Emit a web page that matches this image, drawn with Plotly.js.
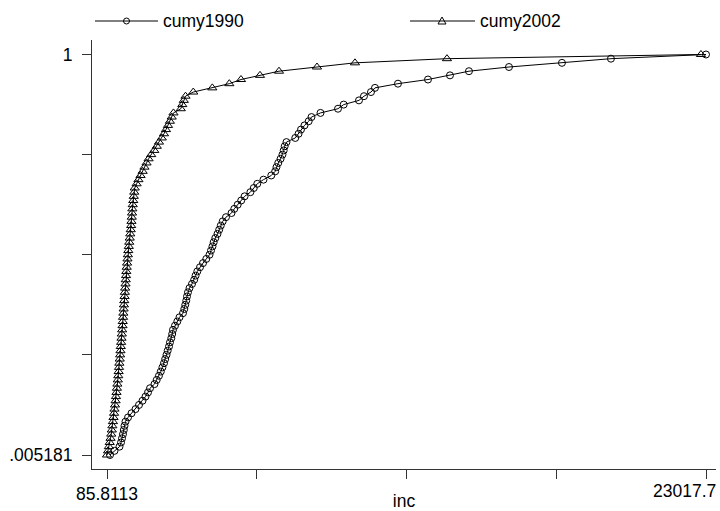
<!DOCTYPE html>
<html>
<head>
<meta charset="utf-8">
<script src="https://cdn.plot.ly/plotly-3.0.1.min.js"></script>
<style>html,body{margin:0;padding:0;background:#fff;}#chart{width:720px;height:511px;}</style>
</head>
<body>
<div id="chart"></div>
<script>
// cumulative share (y) shared by both series
const cumShare = [.005181,.01554,.02591,.03627,.04663,.05699,.06736,.07772,.08808,.09845,
.1088,.1192,.1295,.1399,.1503,.1606,.1710,.1813,.1917,.2021,
.2124,.2228,.2332,.2435,.2539,.2642,.2746,.2850,.2953,.3057,
.3161,.3264,.3368,.3472,.3575,.3679,.3782,.3886,.3990,.4093,
.4197,.4301,.4404,.4508,.4611,.4715,.4819,.4922,.5026,.5130,
.5233,.5337,.5440,.5544,.5648,.5751,.5855,.5959,.6062,.6166,
.6269,.6373,.6477,.6580,.6684,.6788,.6891,.6995,.7098,.7202,
.7306,.7409,.7513,.7617,.7720,.7824,.7927,.8031,.8135,.8238,
.8342,.8446,.8549,.8653,.8756,.8860,.8964,.9067,.9171,.9275,
.9378,.9482,.9585,.9689,.9793,.9896,1];

// income values, 1990
const inc1990 = [201,373,564,622,660,698,729,756,794,890,
1024,1177,1311,1445,1560,1655,1732,1904,1988,2076,
2145,2207,2268,2314,2364,2409,2459,2497,2547,2582,
2612,2689,2777,2861,2995,3045,3083,3121,3148,3186,
3244,3340,3424,3477,3543,3646,3761,3887,4010,4067,
4124,4170,4232,4316,4381,4442,4515,4641,4852,4959,
5089,5223,5353,5575,5705,5839,6077,6375,6525,6574,
6643,6731,6804,6850,6888,6957,7294,7420,7512,7646,
7807,7914,8259,8929,9147,9732,9924,10192,10345,11225,
12374,13216,13943,15475,17503,19379,23017.7];

// income values, 2002
const inc2002 = [85.8113,126,158,190,222,248,270,291,313,335,
356,373,392,415,430,450,466,483,500,517,
532,546,558,574,588,602,614,627,641,653,
665,680,688,700,711,723,734,746,758,769,
781,795,804,815,826,840,855,870,886,901,
921,938,957,976,995,1011,1022,1034,1045,1056,
1071,1091,1110,1129,1148,1220,1290,1370,1450,1520,
1600,1678,1778,1896,1992,2076,2183,2268,2344,2421,
2494,2563,2631,2911,2968,3026,3091,3389,4117,4768,
5215,5942,6670,8125,9579,13101,22824];

const seriesNames = ['cumy1990','cumy2002'];
const xTickVals = [85.8113, 5818.8, 11551.8, 17284.7, 23017.7];
const xTickText = ['85.8113','','','',''];
const xMaxLabel = '23017.7';
const yTickVals = [0.005181, 0.2539, 0.5026, 0.7513, 1];
const yTickText = ['.005181','','','','1'];

const FONT = '"Liberation Sans", Arial, sans-serif';
const FS = 17.5;
const AX = '#333';

const traces = [
  {x: inc1990, y: cumShare, name: seriesNames[0], type: 'scatter', mode: 'lines+markers',
   line: {color: '#000', width: 1},
   marker: {symbol: 'circle-open', size: 7, color: '#000', line: {width: 1, color: '#000'}}},
  {x: inc2002, y: cumShare, name: seriesNames[1], type: 'scatter', mode: 'lines+markers',
   line: {color: '#000', width: 1},
   marker: {symbol: 'triangle-up-open', size: 8, color: '#000', line: {width: 1, color: '#000'}}}
];

// plot area: left 92, right 716, top 40, bottom 469 (px)
const W = 624, H = 429;
const px = v => (v - 92) / W;
const py = v => (469 - v) / H;
const legY = py(21);

const layout = {
  width: 720, height: 511,
  margin: {l: 92, r: 4, t: 40, b: 42},
  paper_bgcolor: '#fff', plot_bgcolor: '#fff',
  showlegend: false,
  font: {family: FONT, size: FS, color: '#000'},
  xaxis: {
    range: [-488.4, 23400.5], showgrid: false, zeroline: false,
    showline: true, linecolor: AX, linewidth: 1,
    ticks: 'outside', ticklen: 9, tickcolor: AX, tickwidth: 1,
    tickmode: 'array', tickvals: xTickVals, ticktext: xTickText,
    tickfont: {family: FONT, size: FS, color: '#000'},
    title: {text: 'inc', font: {family: FONT, size: FS, color: '#000'}, standoff: 12}
  },
  yaxis: {
    range: [-0.029595, 1.036], showgrid: false, zeroline: false,
    showline: true, linecolor: AX, linewidth: 1,
    ticks: 'outside', ticklen: 9, tickcolor: AX, tickwidth: 1, ticklabelstandoff: 6,
    tickmode: 'array', tickvals: yTickVals, ticktext: yTickText,
    tickfont: {family: FONT, size: FS, color: '#000'}
  },
  annotations: [
    {xref: 'x', x: xTickVals[4], yref: 'paper', y: 0, xanchor: 'right', yanchor: 'top',
     xshift: 12, yshift: -10, text: xMaxLabel, showarrow: false,
     font: {family: FONT, size: FS, color: '#000'}},
    {xref: 'paper', x: px(161), yref: 'paper', y: legY, xanchor: 'left', yanchor: 'middle',
     text: seriesNames[0], showarrow: false, font: {family: FONT, size: FS, color: '#000'}},
    {xref: 'paper', x: px(478), yref: 'paper', y: legY, xanchor: 'left', yanchor: 'middle',
     text: seriesNames[1], showarrow: false, font: {family: FONT, size: FS, color: '#000'}}
  ],
  shapes: [
    {type: 'line', xref: 'paper', yref: 'paper', x0: px(95), x1: px(158), y0: legY, y1: legY,
     line: {color: '#000', width: 1}},
    {type: 'circle', xref: 'paper', yref: 'paper', xsizemode: 'pixel', ysizemode: 'pixel',
     xanchor: px(126.5), yanchor: legY, x0: -3, x1: 3, y0: -3, y1: 3,
     line: {color: '#000', width: 1}, fillcolor: 'rgba(0,0,0,0)'},
    {type: 'line', xref: 'paper', yref: 'paper', x0: px(410), x1: px(475), y0: legY, y1: legY,
     line: {color: '#000', width: 1}},
    {type: 'path', xref: 'paper', yref: 'paper', xsizemode: 'pixel', ysizemode: 'pixel',
     xanchor: px(442), yanchor: legY, path: 'M-4,-3 L4,-3 L0,4 Z',
     line: {color: '#000', width: 1}, fillcolor: 'rgba(0,0,0,0)'}
  ]
};

Plotly.newPlot('chart', traces, layout, {staticPlot: true, displayModeBar: false});
</script>
</body>
</html>
